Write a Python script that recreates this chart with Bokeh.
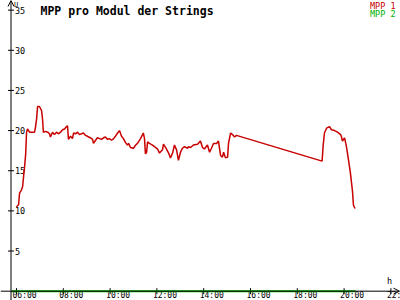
import math
from bokeh.plotting import figure
from bokeh.models import Range1d, Arrow, OpenHead, Label
from bokeh.core.properties import value
from bokeh.embed import file_html
from bokeh.resources import INLINE

# ---- data (time in decimal hours, U in volts) ----
mpp1_time = [6.00, 6.09, 6.13, 6.21, 6.26, 6.32, 6.34, 6.39, 6.43, 6.47, 6.56, 6.64, 6.77, 6.81,
             6.86, 6.90, 6.98, 7.07, 7.11, 7.15, 7.24, 7.33, 7.41, 7.45, 7.54, 7.62, 7.71, 7.80,
             7.88, 7.97, 8.05, 8.14, 8.18, 8.22, 8.31, 8.39, 8.44, 8.52, 8.61, 8.69, 8.78, 8.86,
             8.95, 9.03, 9.08, 9.16, 9.25, 9.29, 9.38, 9.46, 9.55, 9.63, 9.72, 9.80, 9.89, 9.97,
             10.06, 10.15, 10.23, 10.32, 10.40, 10.49, 10.57, 10.66, 10.74, 10.79, 10.87, 11.00,
             11.09, 11.17, 11.30, 11.42, 11.47, 11.51, 11.56, 11.60, 11.68, 11.81, 11.94, 12.03,
             12.11, 12.24, 12.28, 12.37, 12.50, 12.58, 12.67, 12.75, 12.84, 12.92, 13.01, 13.09,
             13.18, 13.31, 13.35, 13.44, 13.56, 13.74, 13.86, 13.95, 14.03, 14.16, 14.25, 14.33,
             14.42, 14.55, 14.63, 14.72, 14.80, 14.85, 14.93, 15.02, 15.06, 15.15, 15.23, 15.32,
             15.40, 19.06, 19.10, 19.16, 19.25, 19.38, 19.46, 19.59, 19.72, 19.85, 19.89, 19.93,
             20.02, 20.10, 20.19, 20.27, 20.36, 20.40, 20.47]
mpp1_u = [10.5, 10.8, 12.2, 12.6, 13.0, 14.8, 15.3, 17.0, 19.8, 20.2, 19.8, 19.8, 19.8, 20.4,
          21.5, 23.0, 23.0, 22.5, 21.5, 19.8, 19.9, 19.8, 19.6, 19.2, 19.8, 19.5, 19.8, 19.6,
          19.8, 20.1, 20.2, 20.5, 20.6, 18.9, 19.3, 19.0, 19.7, 19.6, 19.8, 19.5, 19.6, 19.7,
          19.4, 19.3, 19.2, 19.1, 18.9, 18.4, 18.8, 19.1, 19.0, 18.9, 19.1, 19.2, 18.9, 19.0,
          18.8, 19.0, 19.3, 19.7, 20.0, 19.3, 19.0, 18.5, 18.2, 18.4, 17.9, 17.8,
          18.2, 18.4, 19.0, 19.7, 19.0, 17.1, 17.3, 18.6, 18.4, 18.2, 17.9, 17.7,
          17.2, 17.6, 18.3, 17.9, 17.2, 16.6, 17.2, 18.2, 17.6, 16.3, 17.3, 17.8,
          18.0, 17.8, 18.0, 17.9, 18.2, 18.3, 18.7, 17.9, 17.7, 18.2, 17.3, 17.8,
          18.4, 18.4, 18.7, 16.9, 16.7, 17.3, 16.6, 16.7, 18.4, 19.7, 19.5, 19.2,
          19.4, 16.2, 18.0, 19.7, 20.3, 20.5, 20.1, 20.0, 19.8, 19.5, 19.2, 18.7,
          19.1, 18.0, 16.3, 14.7, 12.4, 10.7, 10.3]
mpp2_time = [5.79, 20.49]
mpp2_u = [0.0, 0.0]

y_ticks = [5, 10, 15, 20, 25, 30, 35]
y_tick_labels = ["5", "10", "15", "20", "25", "30", "35"]
x_ticks = [6, 8, 10, 12, 14, 16, 18, 20, 22]
x_tick_labels = ["06:00", "08:00", "10:00", "12:00", "14:00", "16:00", "18:00", "20:00", "22:00"]

series_names = ["MPP 1", "MPP 2"]
series_colors = ["#c80000", "#00b000"]
title_text = "MPP pro Modul der Strings"

# ---- layout ----
X0, X1 = 5.316, 22.41
Y0, Y1 = -1.16, 36.2
AX_T = 5.765  # where the vertical axis sits

p = figure(width=400, height=300, output_backend="svg", toolbar_location=None,
           x_range=Range1d(X0, X1), y_range=Range1d(Y0, Y1),
           x_axis_type=None, y_axis_type=None, min_border=0,
           outline_line_color=None, background_fill_color="white",
           border_fill_color="white")

MONO = value("DejaVu Sans Mono")

# axes with arrows
p.add_layout(Arrow(x_start=AX_T, y_start=Y0, x_end=AX_T, y_end=Y1,
                   line_color="black", line_width=1,
                   end=OpenHead(size=6, line_width=1, line_color="black")))
p.add_layout(Arrow(x_start=X0, y_start=0, x_end=X0 + 399 / 23.4, y_end=0,
                   line_color="black", line_width=1,
                   end=OpenHead(size=6, line_width=1, line_color="black")))

# ticks
p.scatter(x=[AX_T] * len(y_ticks), y=y_ticks, marker="dash", size=6,
          line_color="black", line_width=1)
p.scatter(x=x_ticks, y=[0] * len(x_ticks), marker="dash", size=6, angle=math.pi / 2,
          line_color="black", line_width=1)

# tick labels
p.text(x=[AX_T] * len(y_ticks), y=y_ticks, text=y_tick_labels, x_offset=4,
       text_align="left", text_baseline="middle", text_font=MONO,
       text_font_size="8.5px", text_color="black")
p.text(x=x_ticks, y=[0] * len(x_ticks), text=x_tick_labels, x_offset=-4, y_offset=9,
       text_align="left", text_baseline="bottom", text_font=MONO,
       text_font_size="8px", text_color="black")

# axis units
p.text(x=[AX_T], y=[Y1], text=["U"], x_offset=3, y_offset=0, text_align="left",
       text_baseline="top", text_font=MONO, text_font_size="7px", text_color="black")
p.text(x=[22.0], y=[0], text=["h"], x_offset=-4, y_offset=-5, text_align="left",
       text_baseline="bottom", text_font=MONO, text_font_size="8.5px", text_color="black")

# data lines
p.line(mpp2_time, mpp2_u, line_color=series_colors[1], line_width=2)
p.line(mpp1_time, mpp1_u, line_color=series_colors[0], line_width=1.5)

# title
p.add_layout(Label(x=40, y=297, x_units="screen", y_units="screen", text=title_text,
                   text_font="DejaVu Sans Mono", text_font_style="bold",
                   text_font_size="11.5px", text_baseline="top", text_color="black"))
# legend texts
for i, (name, col) in enumerate(zip(series_names, series_colors)):
    p.add_layout(Label(x=395, y=300 - 8 * i, x_units="screen", y_units="screen", text=name,
                       text_font="DejaVu Sans Mono", text_font_size="8.5px",
                       text_align="right", text_baseline="top", text_color=col))

open("out.html", "w").write(file_html(p, INLINE))
